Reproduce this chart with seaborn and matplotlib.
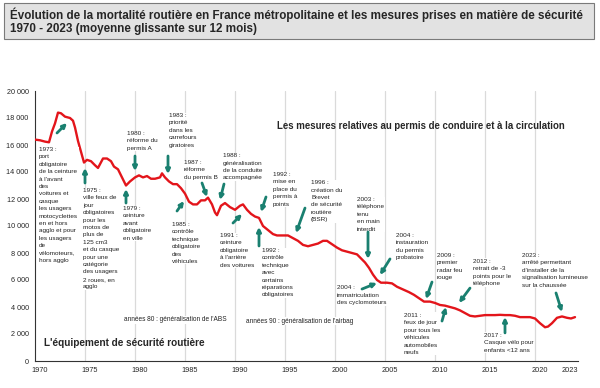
import matplotlib
matplotlib.use("Agg")
import numpy as np
import pandas as pd
import matplotlib.pyplot as plt
import matplotlib.patches as mpatches
import seaborn as sns

# DATA

years = [1970.0, 1970.5, 1971.0, 1971.4, 1971.7, 1972.0, 1972.3, 1972.6, 1973.0, 1973.5,
         1973.8, 1974.0, 1974.3, 1974.6, 1974.9, 1975.2, 1975.6, 1976.0, 1976.3, 1976.8,
         1977.2, 1977.6, 1977.9, 1978.3, 1978.7, 1979.1, 1979.5, 1980.0, 1980.4, 1980.8,
         1981.2, 1981.6, 1982.0, 1982.5, 1982.7, 1983.0, 1983.4, 1983.8, 1984.2, 1984.6,
         1985.0, 1985.4, 1985.8, 1986.2, 1986.6, 1987.0, 1987.3, 1987.7, 1988.0, 1988.2,
         1988.6, 1989.0, 1989.5, 1990.0, 1990.5, 1990.8, 1991.2, 1991.6, 1992.0, 1992.4,
         1992.8, 1993.3, 1993.8, 1994.2, 1994.8, 1995.3, 1995.8, 1996.3, 1996.8, 1997.3,
         1997.8, 1998.3, 1998.8, 1999.2, 1999.6, 2000.2, 2000.7, 2001.2, 2001.7, 2002.2,
         2002.6, 2003.0, 2003.4, 2003.8, 2004.2, 2004.6, 2005.2, 2005.7, 2006.2, 2006.8,
         2007.4, 2007.9, 2008.4, 2008.9, 2009.5, 2010.0, 2010.5, 2011.0, 2011.5, 2012.0,
         2012.5, 2013.0, 2013.5, 2014.0, 2014.5, 2015.0, 2015.5, 2016.0, 2016.5, 2017.0,
         2017.5, 2018.0, 2018.5, 2019.0, 2019.5, 2020.0, 2020.5, 2021.0, 2021.3, 2021.7,
         2022.2, 2022.7, 2023.2, 2023.6, 2024.0]
deaths = [16400, 16350, 16250, 16200, 17000, 17600, 18400, 18350, 18100, 18000,
          17800, 17300, 16300, 15500, 14700, 14900, 14800, 14500, 14300, 15000,
          15000, 14800, 14400, 14200, 13600, 13000, 13300, 13600, 13750, 13600,
          13700, 13500, 13500, 13600, 13900, 13600, 13300, 13100, 13100, 12800,
          12400, 11800, 11600, 11600, 11900, 11900, 12100, 11600, 11000, 10800,
          11500, 11700, 11400, 11200, 11500, 11600, 11200, 10900, 10700, 10600,
          10000, 9700, 9400, 9300, 9300, 9300, 9100, 8900, 8600, 8500,
          8600, 8700, 8900, 8900, 8700, 8400, 8200, 8100, 8000, 7900,
          7600, 7300, 6900, 6400, 6000, 5800, 5800, 5750, 5500, 5300,
          5100, 4900, 4650, 4400, 4400, 4300, 4150, 4100, 4000, 3900,
          3750, 3550, 3350, 3300, 3350, 3400, 3400, 3400, 3420, 3400,
          3400, 3350, 3250, 3250, 3250, 3150, 2800, 2500, 2550, 2800,
          3200, 3300, 3200, 3150, 3250]

tick_years = [1970, 1975, 1980, 1985, 1990, 1995, 2000, 2005, 2010, 2015, 2020, 2023]
y_ticks = list(range(0, 20001, 2000))

mesures = [
    "1973 :\nport\nobligatoire\nde la ceinture\nà l'avant\ndes\nvoitures et\ncasque\nles usagers\nmotocyclettes\nen et hors\nagglo et pour\nles usagers\nde\nvélomoteurs,\nhors agglo",
    "1975 :\nville feux de\njour\nobligatoires\npour les\nmotos de\nplus de\n125 cm3\net du casque\npour une\ncatégorie\ndes usagers\n2 roues, en\nagglo",
    "1979 :\nceinture\navant\nobligatoire\nen ville",
    "1980 :\nréforme du\npermis A",
    "1983 :\npriorité\ndans les\ncarrefours\ngiratoires",
    "1985 :\ncontrôle\ntechnique\nobligatoire\ndes\nvéhicules",
    "1987 :\nréforme\ndu permis B",
    "1988 :\ngénéralisation\nde la conduite\naccompagnée",
    "1991 :\nceinture\nobligatoire\nà l'arrière\ndes voitures",
    "1992 :\nmise en\nplace du\npermis à\npoints",
    "1992 :\ncontrôle\ntechnique\navec\ncertains\nréparations\nobligatoires",
    "1996 :\ncréation du\nBrevet\nde sécurité\nroutière\n(BSR)",
    "2003 :\ntéléphone\ntenu\nen main\ninterdit",
    "2004 :\ninstauration\ndu permis\nprobatoire",
    "2004 :\nimmatriculation\ndes cyclomoteurs",
    "2009 :\npremier\nradar feu\nrouge",
    "2011 :\nfeux de jour\npour tous les\nvéhicules\nautomobiles\nneufs",
    "2012 :\nretrait de -3\npoints pour le\ntéléphone",
    "2017 :\nCasque vélo pour\nenfants <12 ans",
    "2023 :\narrêté permettant\nd'installer de la\nsignalisation lumineuse\nsur la chaussée",
]

# LAYOUT (text x, text y, arrow tail x, tail y, head x, head y)

mesures_pos = [
    (1970.4, 15850, 1972.2, 16890, 1973.2, 17630),
    (1974.8, 12815, 1975.0, 13185, 1975.0, 14300),
    (1978.8, 11480, 1979.1, 11700, 1979.1, 12740),
    (1979.2, 17040, 1980.0, 15185, 1980.0, 14070),
    (1983.4, 18370, 1983.3, 15185, 1983.3, 13850),
    (1983.7, 10300, 1984.2, 11110, 1984.9, 11850),
    (1984.9, 14890, 1986.7, 13185, 1987.2, 12150),
    (1988.8, 15400, 1988.9, 13110, 1988.5, 11930),
    (1988.5, 9480, 1989.8, 10220, 1990.7, 10890),
    (1993.8, 14000, 1993.1, 12150, 1992.6, 11040),
    (1992.7, 8370, 1992.4, 8520, 1992.4, 9930),
    (1997.6, 13400, 1997.0, 11330, 1996.1, 9480),
    (2002.2, 12150, 2003.3, 9560, 2003.3, 7560),
    (2006.1, 9480, 2005.5, 7560, 2004.5, 6370),
    (2000.2, 5600, 2002.7, 5330, 2004.2, 5780),
    (2010.2, 8000, 2009.7, 5850, 2009.1, 4590),
    (2006.9, 3560, 2010.7, 2960, 2011.1, 4000),
    (2013.8, 7560, 2013.5, 5400, 2012.4, 4300),
    (2014.9, 2080, 2017.0, 2080, 2017.0, 3260),
    (2018.7, 8000, 2022.1, 5040, 2022.7, 3630),
]

df = pd.DataFrame({"annee": years, "tues": deaths})

sns.set_style("white")
plt.rcParams['font.family'] = ['Liberation Sans', 'DejaVu Sans']

fig = plt.figure(figsize=(6, 3.88), dpi=100)
ax = fig.add_axes([35 / 600, 1 - 361 / 388, 543 / 600, 270 / 388])

teal = "#1a8070"
red = "#e3151b"

# grid (every 5 years)
for g in range(1975, 2021, 5):
    ax.axvline(g, color="#dadada", lw=0.9, zorder=0)

sns.lineplot(data=df, x="annee", y="tues", ax=ax, color=red, lw=1.7, zorder=3)

ax.set_xlim(1970, 2024.3)
ax.set_ylim(0, 20000)
ax.set_xlabel("")
ax.set_ylabel("")

ax.set_yticks(y_ticks)
ax.set_yticklabels([f"{v:,}".replace(",", " ") for v in y_ticks], fontsize=5.2)
ax.set_xticks([y + 0.5 for y in tick_years])
ax.set_xticklabels([str(y) for y in tick_years], fontsize=5.3)
ax.set_xticks(np.arange(1970, 2025, 1), minor=True)
ax.tick_params(axis="x", which="major", length=0, pad=4)
ax.tick_params(axis="x", which="minor", length=2, width=0.6, color="#333333", direction="out")
ax.tick_params(axis="y", length=2.5, width=0.7, color="#333333", direction="out", pad=2)

for s in ["top", "right"]:
    ax.spines[s].set_visible(False)
for s in ["left", "bottom"]:
    ax.spines[s].set_color("#333333")
    ax.spines[s].set_linewidth(0.8)

# ANNOTATIONS

for txt, (tx, ty, ax0, ay0, ax1, ay1) in zip(mesures, mesures_pos):
    ax.text(tx, ty, txt, fontsize=4.6, ha="left", va="top", color="#222222",
            linespacing=1.6, zorder=4,
            bbox=dict(facecolor="white", edgecolor="none", pad=0.3))
    ax.annotate("", xy=(ax1, ay1), xytext=(ax0, ay0), zorder=5,
                arrowprops=dict(arrowstyle="-|>", color=teal, lw=2.0,
                                mutation_scale=6, shrinkA=0, shrinkB=0))

ax.text(1994.2, 17400, "Les mesures relatives au permis de conduire et à la circulation",
        fontsize=6.9, fontweight="bold", ha="left", va="center", zorder=4)
ax.text(1970.9, 1330, "L'équipement de sécurité routière",
        fontsize=7.2, fontweight="bold", ha="left", va="center", zorder=4)
ax.text(1978.9, 3040, "années 80 : généralisation de l'ABS",
        fontsize=4.7, ha="left", va="center", color="#222222", zorder=4,
        bbox=dict(facecolor="white", edgecolor="none", pad=0.3))
ax.text(1991.1, 2960, "années 90 : généralisation de l'airbag",
        fontsize=4.7, ha="left", va="center", color="#222222", zorder=4,
        bbox=dict(facecolor="white", edgecolor="none", pad=0.3))

# TITLE BOX

fig.patches.append(mpatches.Rectangle((4 / 600, 1 - 39 / 388), 590 / 600, 36 / 388,
                                      transform=fig.transFigure, facecolor="#e2e2e2",
                                      edgecolor="#7a7a7a", lw=0.8))
fig.text(10 / 600, 1 - 15 / 388,
         "Évolution de la mortalité routière en France métropolitaine et les mesures prises en matière de sécurité",
         fontsize=8.4, fontweight="bold", ha="left", va="center")
fig.text(10 / 600, 1 - 29 / 388, "1970 - 2023 (moyenne glissante sur 12 mois)",
         fontsize=8.4, fontweight="bold", ha="left", va="center")

fig.savefig("out.png", dpi=100, facecolor="white")
